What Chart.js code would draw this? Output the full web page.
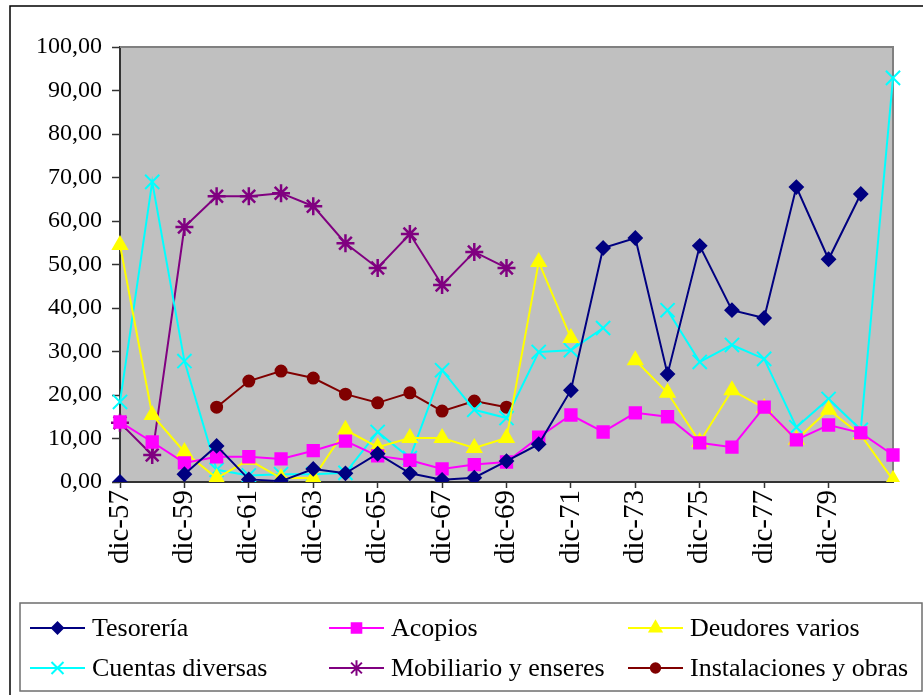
<!DOCTYPE html>
<html>
<head>
<meta charset="utf-8">
<title>Composición del activo</title>
<script src="https://cdn.jsdelivr.net/npm/chart.js@4/dist/chart.umd.min.js"></script>
<style>
  body { margin: 0; background: #fff; }
  #grafico { display: block; }
</style>
</head>
<body>
<canvas id="grafico" width="923" height="695"></canvas>
<script>
const periodos = ['dic-57', 'dic-58', 'dic-59', 'dic-60', 'dic-61', 'dic-62', 'dic-63', 'dic-64', 'dic-65',
    'dic-66', 'dic-67', 'dic-68', 'dic-69', 'dic-70', 'dic-71', 'dic-72', 'dic-73', 'dic-74', 'dic-75',
    'dic-76', 'dic-77', 'dic-78', 'dic-79', 'dic-80', 'dic-81'];

const tesoreria = [0, null, 1.8, 8.3, 0.6, 0.2, 3.0, 2.0, 6.5, 2.0, 0.5, 1.0, 4.8, 8.7, 21.1,
    53.8, 56.1, 24.8, 54.3, 39.5, 37.7, 67.8, 51.2, 66.2, null];
const acopios = [13.8, 9.2, 4.4, 5.8, 5.8, 5.3, 7.2, 9.4, 6.0, 5.0, 3.0, 4.0, 4.6, 10.3, 15.4,
    11.5, 15.9, 15.0, 9.0, 8.0, 17.2, 9.7, 13.1, 11.3, 6.2];
const deudores = [54.5, 15.4, 6.9, 0.9, 5.1, 0.9, 0.9, 12.0, 8.0, 10.1, 10.1, 7.8, 10.1, 50.6, 33.1,
    null, 28.0, 20.5, 9.2, 21.1, 17.0, 9.7, 16.6, 10.8, 0.5];
const cuentas = [18.4, 69.0, 27.8, 2.8, 1.5, 1.8, 1.8, 2.1, 11.5, 5.5, 25.7, 16.6, 14.7, 29.9, 30.3,
    35.4, null, 39.5, 27.6, 31.5, 28.3, 12.6, 19.1, 12.0, 92.9];
const mobiliario = [13.6, 6.2, 58.6, 65.7, 65.7, 66.4, 63.4, 54.9, 49.2, 57.0, 45.3, 52.9, 49.2,
    null, null, null, null, null, null, null, null, null, null, null, null];
const instalaciones = [null, null, null, 17.2, 23.2, 25.5, 23.9, 20.2, 18.2, 20.5, 16.3, 18.6, 17.2,
    null, null, null, null, null, null, null, null, null, null, null, null];

const marcasY = [0, 10, 20, 30, 40, 50, 60, 70, 80, 90, 100];

const FUENTE = '"Liberation Serif", "Times New Roman", serif';

function serie(nombre, datos, color, estilo, radio, grosor) {
    return {
        label: nombre,
        data: datos,
        borderColor: color,
        backgroundColor: color,
        pointBackgroundColor: color,
        pointBorderColor: color,
        pointStyle: estilo,
        pointRadius: radio,
        pointHoverRadius: radio,
        pointBorderWidth: grosor || 2,
        borderWidth: 2,
        tension: 0,
        spanGaps: false
    };
}

const series = [
    serie('Tesorería', tesoreria, '#000080', 'rectRot', 6.5),
    serie('Acopios', acopios, '#FF00FF', 'rect', 8),
    serie('Deudores varios', deudores, '#FFFF00', 'triangle', 8),
    serie('Cuentas diversas', cuentas, '#00FFFF', 'crossRot', 10),
    serie('Mobiliario y enseres', mobiliario, '#800080', 'star', 9, 2.5),
    serie('Instalaciones y obras', instalaciones, '#800000', 'circle', 5.5)
];

// fondo gris del área de trazado, marco exterior y bordes superior/derecho
const marco = {
    id: 'marco',
    beforeDraw(chart) {
        const { ctx, chartArea: a } = chart;
        ctx.save();
        ctx.fillStyle = '#fff';
        ctx.fillRect(0, 0, chart.width, chart.height);
        ctx.strokeStyle = '#000';
        ctx.lineWidth = 1.5;
        ctx.beginPath();
        ctx.moveTo(10, chart.height + 2);
        ctx.lineTo(10, 6);
        ctx.lineTo(chart.width + 2, 6);
        ctx.stroke();
        ctx.fillStyle = '#C0C0C0';
        ctx.fillRect(a.left, a.top, a.right - a.left, a.bottom - a.top);
        ctx.restore();
    },
    beforeDatasetsDraw(chart) {
        const { ctx, chartArea: a } = chart;
        ctx.save();
        ctx.strokeStyle = '#808080';
        ctx.lineWidth = 2;
        ctx.beginPath();
        ctx.moveTo(a.left, a.top);
        ctx.lineTo(a.right, a.top);
        ctx.lineTo(a.right, a.bottom);
        ctx.stroke();
        ctx.restore();
    }
};

// leyenda en recuadro, dos filas por tres columnas
const leyenda = {
    id: 'leyenda',
    afterDraw(chart) {
        const ctx = chart.ctx;
        const caja = { x: 20, y: 603, w: 902, h: 88 };
        const columnas = [30, 329, 628];
        const filas = [628, 668];
        ctx.save();
        ctx.fillStyle = '#fff';
        ctx.fillRect(caja.x, caja.y, caja.w, caja.h);
        ctx.strokeStyle = '#6e6e6e';
        ctx.lineWidth = 1.5;
        ctx.strokeRect(caja.x, caja.y, caja.w, caja.h);
        ctx.font = '26px ' + FUENTE;
        ctx.textBaseline = 'middle';
        ctx.textAlign = 'left';
        chart.data.datasets.forEach((ds, i) => {
            const x = columnas[i % 3];
            const y = filas[Math.floor(i / 3)];
            ctx.strokeStyle = ds.borderColor;
            ctx.fillStyle = ds.borderColor;
            ctx.lineWidth = 2;
            ctx.beginPath();
            ctx.moveTo(x, y);
            ctx.lineTo(x + 55, y);
            ctx.stroke();
            Chart.helpers.drawPoint(ctx, {
                pointStyle: ds.pointStyle,
                radius: ds.pointRadius * 0.85,
                rotation: 0,
                borderWidth: 2
            }, x + 27.5, y);
            ctx.fillStyle = '#000';
            ctx.fillText(ds.label, x + 62, y + 1);
        });
        ctx.restore();
    }
};

const ctx = document.getElementById('grafico').getContext('2d');
const grafico = new Chart(ctx, {
    type: 'line',
    data: {
        labels: periodos,
        datasets: series
    },
    options: {
        responsive: false,
        animation: false,
        layout: {
            padding: { top: 47, right: 30, left: 0, bottom: 0 }
        },
        plugins: {
            legend: { display: false },
            tooltip: { enabled: false }
        },
        scales: {
            x: {
                offset: false,
                afterFit(scale) { scale.height = 213; },
                grid: {
                    display: true,
                    drawOnChartArea: false,
                    tickLength: 6,
                    tickColor: '#333',
                    tickWidth: 1.5
                },
                border: { color: '#333', width: 2 },
                ticks: {
                    autoSkip: false,
                    minRotation: 90,
                    maxRotation: 90,
                    padding: 2,
                    color: '#000',
                    font: { family: FUENTE, size: 29 },
                    callback(valor, i) {
                        return (i % 2 === 0 && i < periodos.length - 1) ? periodos[i] : null;
                    }
                }
            },
            y: {
                min: 0,
                max: 100,
                afterFit(scale) { scale.width = 120; },
                afterBuildTicks(scale) {
                    scale.ticks = marcasY.map(v => ({ value: v }));
                },
                grid: {
                    display: true,
                    drawOnChartArea: false,
                    tickLength: 8,
                    tickColor: '#333',
                    tickWidth: 1.5
                },
                border: { color: '#333', width: 2 },
                ticks: {
                    padding: 10,
                    color: '#000',
                    font: { family: FUENTE, size: 24 },
                    callback(valor) {
                        return valor.toFixed(2).replace('.', ',');
                    }
                }
            }
        }
    },
    plugins: [marco, leyenda]
});
</script>
</body>
</html>
